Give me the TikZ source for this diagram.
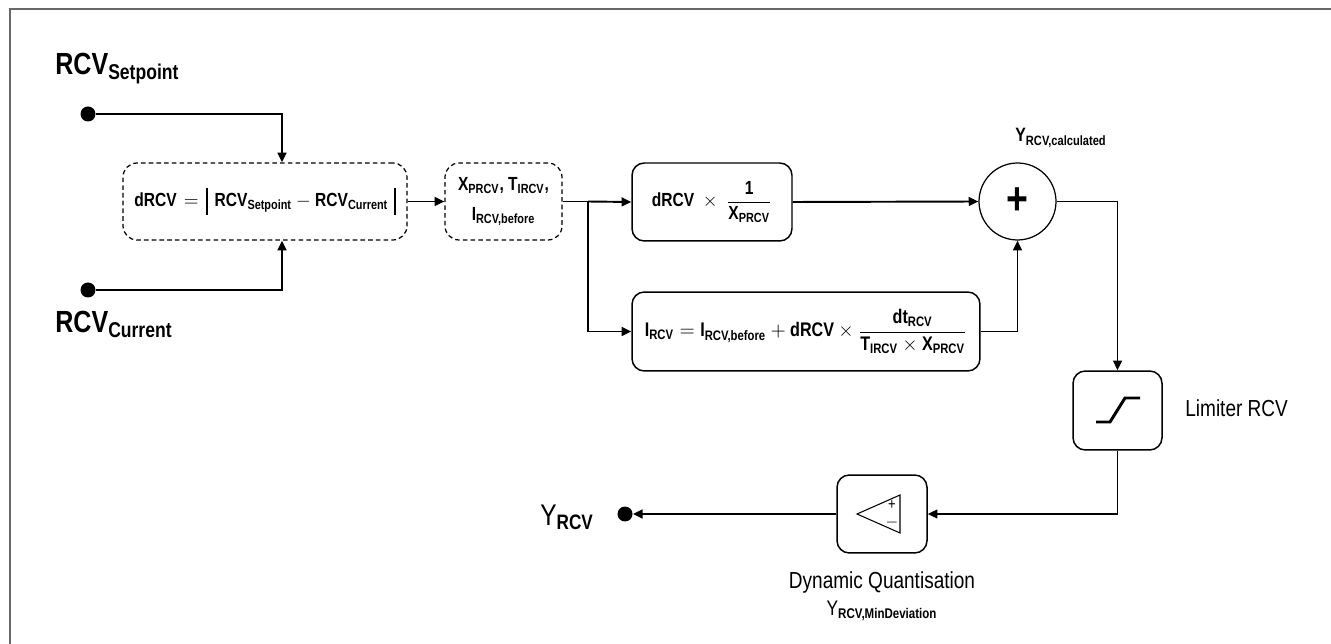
\RequirePackage{fix-cm}
\documentclass[tikz,border=0pt]{standalone}
\usepackage{amsmath}
\usepackage{fontspec}
\setmainfont[FakeStretch=0.82]{Liberation Sans}
\usepackage{xcolor}
\usepackage{tikz}
\usetikzlibrary{
  arrows.meta,
  positioning
}
\definecolor{framegray}{RGB}{105,105,105}
\newcommand{\vsub}[2]{\text{#1}_{\text{#2}}}
\newcommand{\absbar}{\rule[-4.5pt]{1.2pt}{15pt}}

\begin{document}
\begin{tikzpicture}[
    x=0.02cm, y=-0.02cm,
    % Box styles for the blocks
    blk/.style={rectangle, draw, line width=0.85pt, rounded corners=7pt, align=center, inner sep=0pt, font=\fontsize{10.8}{16}\selectfont\bfseries},
    dblk/.style={blk, line width=0.7pt, dash pattern=on 2.6pt off 1.8pt, rounded corners=8pt},
    % Signal lines and terminals
    sig/.style={-{Triangle[length=5.5pt,width=5pt]}, line width=1.1pt},
    pin/.style={circle, fill, inner sep=0pt, minimum size=0.3cm},
    % Label styles
    big/.style={font=\fontsize{17.4}{19}\selectfont\bfseries, inner sep=0pt},
    capl/.style={font=\fontsize{13.2}{15}\selectfont, inner sep=0pt}
]
    \useasboundingbox (0,0) rectangle (1331,644);

    % --- FRAME ---
    \draw[framegray, line width=1.2pt] (1331,9) -- (10,9) -- (10,644);

    % --- INPUTS ---
    \node[big, anchor=base west] (spl) at (55,75) {$\vsub{RCV}{Setpoint}$};
    \node[pin] (sp) at (88,114) {};
    \node[pin] (cur) at (88,290) {};
    \node[big, anchor=base west] (curl) at (55,333) {$\vsub{RCV}{Current}$};

    % --- DEVIATION AND PARAMETERS ---
    \node[dblk, minimum width=5.68cm, minimum height=1.54cm] (diff) at (265,201.5)
        {dRCV\hspace{4pt}$=$\hspace{4pt}\absbar\hspace{4pt}$\vsub{RCV}{Setpoint} - \vsub{RCV}{Current}$\hspace{3pt}\absbar};
    \node[dblk, minimum width=2.34cm, minimum height=1.54cm] (par) at (503.5,201.5)
        {$\vsub{X}{PRCV}$, $\vsub{T}{IRCV}$,\\[1pt]$\vsub{I}{RCV,before}$};
    \coordinate (split) at (588,201.5);

    % --- P AND I PATHS ---
    \node[blk, minimum width=3.2cm, minimum height=1.56cm] (prop) at (712,202)
        {dRCV\ \ $\times$\ \ $\dfrac{\text{1}}{\vsub{X}{PRCV}}$};
    \node[blk, minimum width=6.96cm, minimum height=1.58cm, font=\fontsize{11.2}{16}\selectfont\bfseries] (integ) at (806,331.5)
        {$\vsub{I}{RCV} = \vsub{I}{RCV,before} + \text{dRCV} \times \dfrac{\vsub{dt}{RCV}}{\vsub{T}{IRCV}\times\vsub{X}{PRCV}}$};

    % --- SUM ---
    \node[circle, draw, line width=0.7pt, minimum size=1.54cm, inner sep=0pt,
          font=\fontsize{26}{26}\selectfont\bfseries] (sum) at (1017.5,201.5) {+};
    \node[font=\fontsize{11}{12}\selectfont\bfseries, anchor=base, inner sep=0pt] (ycalc) at (1061,142)
        {$\vsub{Y}{RCV,calculated}$};

    % --- LIMITER ---
    \node[blk, minimum width=1.78cm, minimum height=1.58cm] (lim) at (1117.5,410.5) {};
    \draw[line width=1.7pt, shift={(lim.center)}] (-21.5,11.5) -- (-7.5,11.5) -- (7.5,-12.5) -- (22.5,-12.5);
    \node[capl, anchor=west] (liml) at (1185,408) {Limiter RCV};

    % --- QUANTISATION ---
    \node[blk, minimum width=1.8cm, minimum height=1.56cm] (quant) at (882,514) {};
    \draw[line width=0.6pt, shift={(quant.center)}] (-25,0) -- (18,-19) -- (18,19) -- cycle;
    \node[font=\fontsize{9}{9}\selectfont, inner sep=0pt] (qplus) at (892,505) {+};
    \node[font=\fontsize{9}{9}\selectfont, inner sep=0pt] (qminus) at (892,523) {$-$};
    \node[capl, anchor=base] (quantl) at (882,588) {Dynamic Quantisation};
    \node[font=\fontsize{12}{13}\selectfont, anchor=base, inner sep=0pt] (qdev) at (882,615)
        {$\text{Y}_{\text{\bfseries RCV,MinDeviation}}$};

    % --- OUTPUT ---
    \node[pin] (yout) at (625,514) {};
    \node[font=\fontsize{17}{18}\selectfont, anchor=base west, inner sep=0pt] (youtl) at (540,525)
        {$\text{Y}_{\text{\bfseries RCV}}$};

    % --- SIGNALS ---
    \draw[sig] (sp) -| ([xshift=0.34cm]diff.north);
    \draw[sig] (cur) -| ([xshift=0.34cm]diff.south);
    \draw[sig] (diff.east) -- (par.west);
    \draw[line width=1.1pt] (par.east) -- (split);
    \draw[sig] (split) -- (prop.west);
    \draw[sig] (split) |- (integ.west);
    \draw[sig] (prop.east) -- (sum.west);
    \draw[sig] (integ.east) -| (sum.south);
    \draw[sig] (sum.east) -| (lim.north);
    \draw[sig] (lim.south) |- (quant.east);
    \draw[sig] (quant.west) -- (yout);

\end{tikzpicture}
\end{document}
